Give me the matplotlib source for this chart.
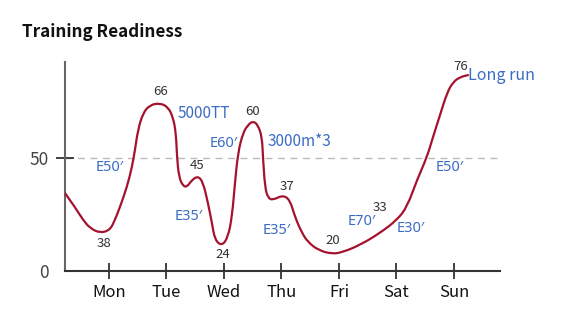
import matplotlib
matplotlib.use('Agg')
import matplotlib.pyplot as plt
from matplotlib.path import Path
from matplotlib.patches import PathPatch

plt.rcParams['font.family'] = ['Noto Sans CJK SC', 'DejaVu Sans']

days = ['Mon', 'Tue', 'Wed', 'Thu', 'Fri', 'Sat', 'Sun']
day_pos = [1, 2, 3, 4, 5, 6, 7]

# readiness curve (x in day units, Mon = 1)
curve_x = [0.235, 0.409, 0.548, 0.670, 0.843, 1.017, 1.104, 1.191, 1.313, 1.400,
           1.452, 1.504, 1.591, 1.713, 1.887, 2.026, 2.113, 2.165, 2.183, 2.217,
           2.287, 2.357, 2.443, 2.548, 2.635, 2.722, 2.791, 2.843, 2.965, 3.070,
           3.139, 3.191, 3.243, 3.330, 3.417, 3.504, 3.591, 3.661, 3.678, 3.713,
           3.765, 3.852, 4.026, 4.148, 4.235, 4.357, 4.461, 4.635, 4.878, 5.070,
           5.365, 5.713, 6.009, 6.183, 6.357, 6.530, 6.635, 6.757, 6.878, 6.983,
           7.104, 7.243]
curve_y = [34.5, 28.3, 22.6, 19.0, 16.8, 18.1, 22.6, 28.3, 37.2, 46.0,
           53.5, 62.4, 69.9, 73.5, 74.3, 72.6, 68.1, 61.1, 50.4, 41.6,
           37.6, 37.2, 40.3, 42.0, 39.4, 30.1, 21.2, 13.7, 11.1, 15.0,
           23.9, 38.9, 52.2, 61.1, 64.6, 66.4, 64.6, 59.3, 50.4, 37.2,
           32.3, 31.4, 33.6, 31.4, 23.9, 16.8, 12.8, 9.3, 7.5, 8.4,
           11.5, 16.8, 22.6, 28.3, 40.3, 50.4, 59.3, 69.0, 78.8, 83.6,
           85.8, 86.7]

# readiness numbers and where they sit
score_labels = ['38', '66', '45', '24', '60', '37', '20', '33', '76']
score_x = [0.91, 1.90, 2.54, 2.98, 3.50, 4.09, 4.89, 5.71, 7.11]
score_y = [12.0, 79.6, 46.5, 7.1, 70.8, 37.6, 13.3, 27.9, 90.3]

# workouts
workout_labels = ["E50′", '5000TT', "E60′", '3000m*3', "E35′", "E35′",
                  "E70′", "E30′", "E50′", 'Long run']
workout_x = [1.02, 2.65, 3.00, 4.32, 2.39, 3.92, 5.40, 6.25, 6.93, 7.83]
workout_y = [46.0, 69.5, 56.6, 57.1, 23.9, 18.1, 21.7, 18.6, 45.6, 86.7]
workout_size = [10.5, 11, 10.5, 11, 10.5, 10.5, 10.5, 10.5, 10.5, 11.5]

red = '#a5122e'
blue = '#3b6cc4'


def smooth_path(xs, ys):
    # quadratic b-spline through the read points, drawn by matplotlib's Path
    verts = [(xs[0], ys[0])]
    codes = [Path.MOVETO]
    for i in range(1, len(xs) - 1):
        verts.append((xs[i], ys[i]))
        verts.append(((xs[i] + xs[i + 1]) / 2, (ys[i] + ys[i + 1]) / 2))
        codes += [Path.CURVE3, Path.CURVE3]
    verts.append((xs[-1], ys[-1]))
    codes.append(Path.LINETO)
    return Path(verts, codes)


fig = plt.figure(figsize=(5.67, 3.16), dpi=100)
ax = fig.add_axes([0.1146, 0.1424, 0.7672, 0.6614])

ax.axhline(50, color='#bbbbbb', lw=1.0, ls=(0, (5, 4)), zorder=1)
ax.add_patch(PathPatch(smooth_path(curve_x, curve_y), facecolor='none',
                       edgecolor=red, lw=1.6, capstyle='round',
                       joinstyle='round', zorder=3))

for t, x, y in zip(score_labels, score_x, score_y):
    ax.text(x, y, t, ha='center', va='center', fontsize=9.5, color='#333333')

for t, x, y, s in zip(workout_labels, workout_x, workout_y, workout_size):
    fam = ['Noto Sans', 'DejaVu Sans'] if '′' in t else ['Noto Sans CJK SC', 'DejaVu Sans']
    ax.text(x, y, t, ha='center', va='center', fontsize=s, color=blue, family=fam)

ax.set_xlim(0.235, 7.8)
ax.set_ylim(0, 92.5)
ax.set_xticks(day_pos)
ax.set_xticklabels(days)
ax.set_yticks([0, 50])

for side in ['top', 'right']:
    ax.spines[side].set_visible(False)
ax.spines['left'].set_color('#666666')
ax.spines['left'].set_linewidth(1.5)
ax.spines['bottom'].set_color('#333333')
ax.spines['bottom'].set_linewidth(1.5)

ax.tick_params(axis='x', direction='inout', length=11, width=1.3,
               color='#333333', labelsize=12, labelcolor='#111111', pad=4)
ax.tick_params(axis='y', direction='inout', length=13, width=1.3,
               color='#333333', labelsize=12.5, labelcolor='#444444', pad=5)
ax.yaxis.get_major_ticks()[0].tick1line.set_visible(False)
for lab in ax.get_yticklabels():
    lab.set_fontweight('light')

fig.text(22 / 567, 1 - 32 / 316, 'Training Readiness', fontsize=12.3,
         fontweight='bold', ha='left', va='center', color='#111111')

fig.savefig('out.png', dpi=100)
